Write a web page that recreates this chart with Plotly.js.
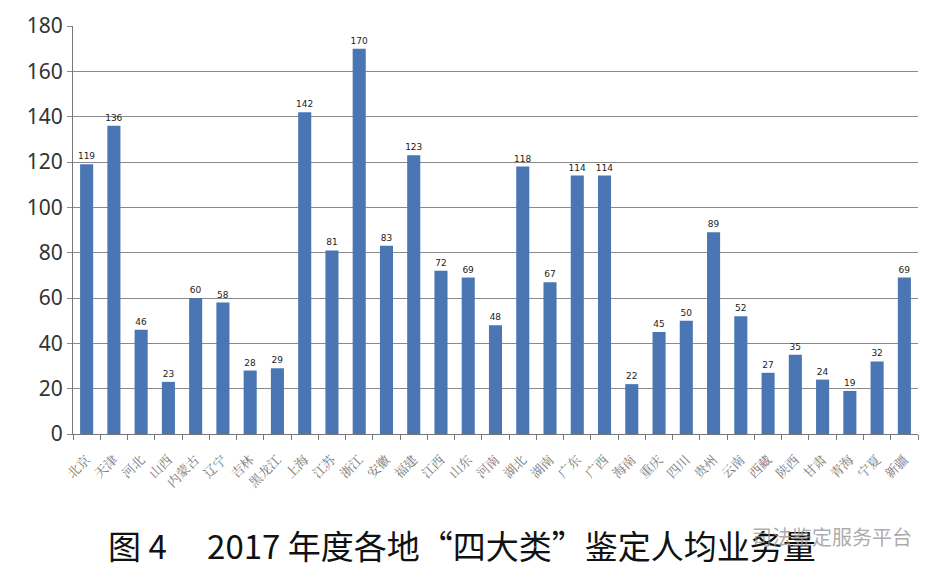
<!DOCTYPE html>
<html>
<head>
<meta charset="utf-8">
<script src="https://cdn.plot.ly/plotly-3.0.1.min.js"></script>
<style>html,body{margin:0;padding:0;background:#fff;}#chart{width:937px;height:576px;}</style>
</head>
<body>
<div id="chart"></div>
<script>
const provinces = ["北京","天津","河北","山西","内蒙古","辽宁","吉林","黑龙江","上海","江苏","浙江","安徽","福建","江西","山东","河南","湖北","湖南","广东","广西","海南","重庆","四川","贵州","云南","西藏","陕西","甘肃","青海","宁夏","新疆"];
const values = [119,136,46,23,60,58,28,29,142,81,170,83,123,72,69,48,118,67,114,114,22,45,50,89,52,27,35,24,19,32,69];
const yTicks = [0,20,40,60,80,100,120,140,160,180];
const titleText = "图 4　 2017 年度各地“四大类”鉴定人均业务量";
const watermark = "司法鉴定服务平台";

const trace = {
  type: "bar",
  x: provinces,
  y: values,
  text: values.map(String),
  textposition: "outside",
  constraintext: "none",
  cliponaxis: false,
  textfont: {family: "DejaVu Sans, sans-serif", size: 9, color: "#222"},
  marker: {color: "#4a77b4"},
  width: 0.48,
  hoverinfo: "x+y"
};

const layout = {
  width: 937, height: 576,
  margin: {l: 73, r: 19, t: 26, b: 142},
  paper_bgcolor: "#fff", plot_bgcolor: "#fff",
  showlegend: false,
  xaxis: {
    type: "category",
    tickangle: -45,
    ticklabelstandoff: 12,
    tickfont: {family: "Noto Serif CJK SC, Noto Sans CJK SC, serif", size: 13, color: "#777"},
    showline: true, linecolor: "#777", linewidth: 1,
    ticks: "outside", ticklen: 5, tickcolor: "#777", tickson: "boundaries",
    showgrid: false
  },
  yaxis: {
    range: [0, 180],
    tickvals: yTicks,
    tickfont: {family: "Noto Sans, DejaVu Sans, sans-serif", size: 21, color: "#333"},
    showgrid: true, gridcolor: "#8a8a8a", gridwidth: 1,
    showline: true, linecolor: "#777", linewidth: 1,
    ticks: "outside", ticklen: 5, tickcolor: "#8a8a8a",
    zeroline: false
  },
  annotations: [
    {text: titleText, xref: "paper", yref: "paper", x: 0.46, y: -0.272, xanchor: "center", yanchor: "middle",
     showarrow: false, font: {family: "Noto Sans CJK SC, sans-serif", size: 33, color: "#111"}},
    {text: watermark, xref: "paper", yref: "paper", x: 0.995, y: -0.25, xanchor: "right", yanchor: "middle",
     showarrow: false, font: {family: "Noto Sans CJK SC, sans-serif", size: 20, color: "rgba(150,150,150,0.8)"}}
  ]
};

Plotly.newPlot("chart", [trace], layout, {staticPlot: true, displayModeBar: false});
</script>
</body>
</html>
